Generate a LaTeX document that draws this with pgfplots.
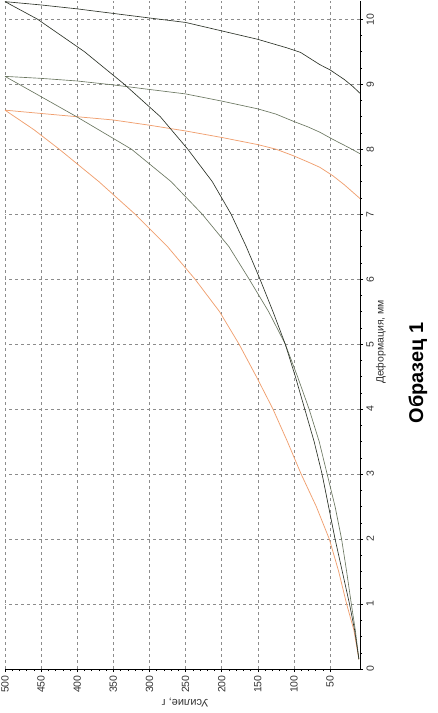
\documentclass[border=0pt]{standalone}
\usepackage{fontspec}
\setmainfont{Liberation Sans}
\usepackage{pgfplots}
\pgfplotsset{compat=1.18}
\definecolor{orangeCol}{HTML}{F0A070}
\definecolor{greyCol}{HTML}{6A7660}
\definecolor{darkCol}{HTML}{2C3328}
\definecolor{gridCol}{HTML}{8C8C8C}

\begin{document}
\begin{tikzpicture}
\useasboundingbox (0,0) rectangle (438bp,713bp);
\begin{axis}[
  at={(5bp,44bp)}, anchor=south west,
  scale only axis, width=355bp, height=668bp,
  x dir=reverse,
  xmin=8.5, xmax=500, ymin=0, ymax=10.28,
  axis x line*=bottom, axis y line*=right,
  axis line style={-, black, line width=0.6pt},
  xtick={50,100,...,500}, ytick={0,1,...,10},
  minor x tick num=4, minor y tick num=3,
  tick align=outside,
  major tick length=3bp, minor tick length=2bp,
  tick style={black, line width=0.5pt},
  grid=major,
  major grid style={gridCol, dash pattern=on 3bp off 3bp, line width=0.5pt},
  /pgf/number format/assume math mode=true,
  xticklabel style={rotate=90, anchor=east, font=\fontsize{10.5}{11}\selectfont, text=black!80},
  yticklabel style={rotate=90, anchor=north, font=\fontsize{10.5}{11}\selectfont, text=black!80},
]
% образец: нагружение, затем разгрузка
\addplot[orangeCol, line width=0.75pt] coordinates {
  (10,0.15) (17,0.6) (27,1.0) (38,1.5) (51,2.0) (69,2.5) (90,3.0) (109,3.5)
  (129,4.0) (152,4.5) (176,5.0) (203,5.5) (237,6.0) (275,6.5) (320,7.0)
  (370,7.5) (425,8.0) (460,8.3) (500,8.6)
  (451,8.55) (401,8.5) (351,8.45) (301,8.37) (250,8.28) (200,8.18) (150,8.07)
  (125,8.0) (101,7.9) (80,7.8) (64,7.72) (46,7.59) (30,7.45) (8.5,7.24)
};
\addplot[greyCol, line width=0.65pt] coordinates {
  (10,0.15) (15,0.6) (20.5,1.0) (27,1.5) (34,2.0) (43,2.5) (54,3.0) (65,3.5)
  (79,4.0) (95,4.5) (112,5.0) (135,5.5) (162,6.0) (190,6.5) (227,7.0)
  (270,7.5) (325,8.0) (401,8.5) (452,8.82) (500,9.12)
  (451,9.09) (401,9.05) (351,8.99) (301,8.92) (250,8.85) (200,8.74) (150,8.62)
  (125,8.54) (101,8.43) (80,8.34) (64,8.26) (46,8.15) (25,8.03) (8.5,7.93)
};
\addplot[darkCol, line width=0.65pt] coordinates {
  (10,0.15) (16,0.6) (23,1.0) (33,1.5) (43,2.0) (52,2.5) (61,3.0) (72,3.5)
  (85,4.0) (98,4.5) (112,5.0) (129,5.5) (147,6.0) (166,6.5) (187,7.0)
  (213,7.5) (247,8.0) (285,8.5) (335,9.0) (390,9.5) (455,10.0) (500,10.27)
  (451,10.22) (401,10.16) (351,10.09) (301,10.02) (250,9.95) (200,9.82)
  (150,9.69) (110,9.56) (91,9.49) (64,9.3) (50,9.22) (30,9.07) (18,8.96) (8.5,8.86)
};
\end{axis}
\node[rotate=180, font=\fontsize{11}{12}\selectfont, text=black!80] at (185bp,10bp) {Усилие, г};
\node[rotate=90, font=\fontsize{10.5}{12}\selectfont, text=black!80] at (381bp,371bp) {Деформация, мм};
\node[rotate=90, font=\fontsize{20}{22}\selectfont\bfseries] at (418bp,340bp) {Образец 1};
\end{tikzpicture}
\end{document}
